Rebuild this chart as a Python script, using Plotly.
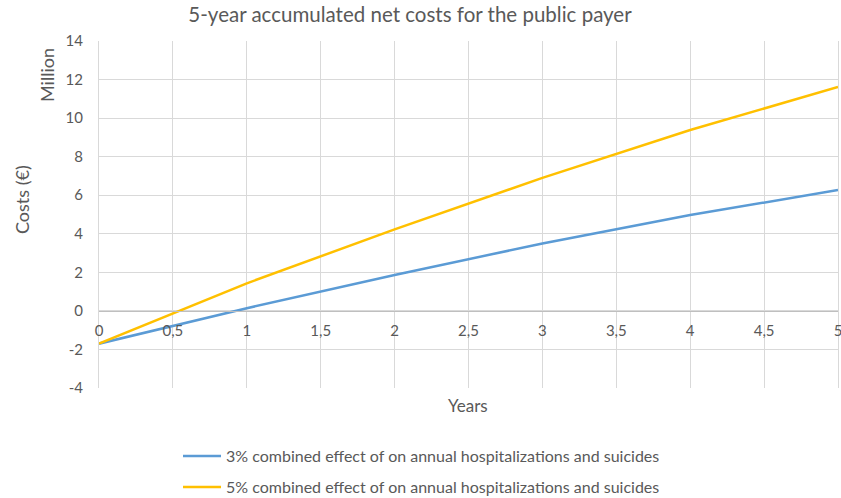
import plotly.graph_objects as go

years = [0, 1, 2, 3, 4, 5]
series_3pct = [-1.7, 0.14, 1.86, 3.5, 4.97, 6.27]
series_5pct = [-1.7, 1.43, 4.23, 6.9, 9.38, 11.62]
name_3pct = "3% combined effect of on annual hospitalizations and suicides"
name_5pct = "5% combined effect of on annual hospitalizations and suicides"
title_text = "5-year accumulated net costs for the public payer"
y_tick_vals = [-4, -2, 0, 2, 4, 6, 8, 10, 12, 14]
y_tick_text = ["-4", "-2", "0", "2", "4", "6", "8", "10", "12", "14"]
x_tick_vals = [0, 0.5, 1, 1.5, 2, 2.5, 3, 3.5, 4, 4.5, 5]
x_tick_text = ["0", "0,5", "1", "1,5", "2", "2,5", "3", "3,5", "4", "4,5", "5"]

FONT = "Lato, 'Open Sans', sans-serif"
GREY = "#595959"

fig = go.Figure()
fig.add_trace(go.Scatter(x=years, y=series_3pct, mode="lines", name=name_3pct,
                         line=dict(color="#5B9BD5", width=2.5), legend="legend"))
fig.add_trace(go.Scatter(x=years, y=series_5pct, mode="lines", name=name_5pct,
                         line=dict(color="#FFC000", width=2.5), legend="legend2"))

W, H = 841, 498
L, R, T, B = 99, 3, 41, 110
pw, ph = W - L - R, H - T - B

def px_x(px):
    return (px - L) / pw

def px_y(py):
    return (H - B - py) / ph

fig.update_layout(
    width=W, height=H,
    margin=dict(l=L, r=R, t=T, b=B, autoexpand=False),
    paper_bgcolor="white", plot_bgcolor="white",
    separators=",.",
    font=dict(family=FONT, color=GREY, size=15),
    title=dict(text=title_text, x=410 / W, xref="container", xanchor="center",
               y=1 - 15 / H, yref="container", yanchor="middle",
               font=dict(size=20.5, color=GREY, family=FONT)),
    xaxis=dict(range=[0, 5], tickvals=x_tick_vals, ticktext=x_tick_text,
               showgrid=True, gridcolor="#d9d9d9",
               gridwidth=1, zeroline=False, showline=True, linecolor="#bfbfbf",
               anchor="free", position=4 / 18, ticks="", ticklabelstandoff=6,
               ticklabeloverflow="allow",
               tickfont=dict(size=15, color=GREY)),
    yaxis=dict(range=[-4, 14], tickvals=y_tick_vals, ticktext=y_tick_text,
               showgrid=True, gridcolor="#d9d9d9", mirror=True,
               gridwidth=1, zeroline=False, showline=True, linecolor="#d9d9d9",
               ticks="", ticklabelstandoff=12, tickfont=dict(size=15, color=GREY)),
    legend=dict(x=px_x(178), y=px_y(456), itemwidth=38,
                xanchor="left", yanchor="middle", bgcolor="rgba(0,0,0,0)",
                font=dict(size=16, color=GREY, family=FONT)),
    legend2=dict(x=px_x(178), y=px_y(487), itemwidth=38,
                 xanchor="left", yanchor="middle", bgcolor="rgba(0,0,0,0)",
                 font=dict(size=16, color=GREY, family=FONT)),
    showlegend=True,
)

fig.add_annotation(text="Costs (€)", x=px_x(22), y=px_y(200), xref="paper", yref="paper",
                   xanchor="center", yanchor="middle",
                   showarrow=False, textangle=-90, font=dict(size=18, color=GREY))
fig.add_annotation(text="Million", x=px_x(47), y=px_y(75), xref="paper", yref="paper",
                   xanchor="center", yanchor="middle",
                   showarrow=False, textangle=-90, font=dict(size=18, color=GREY))
fig.add_annotation(text="Years", x=px_x(468), y=px_y(405), xref="paper", yref="paper",
                   xanchor="center", yanchor="middle",
                   showarrow=False, font=dict(size=17, color=GREY))

fig.write_html("out.html")
